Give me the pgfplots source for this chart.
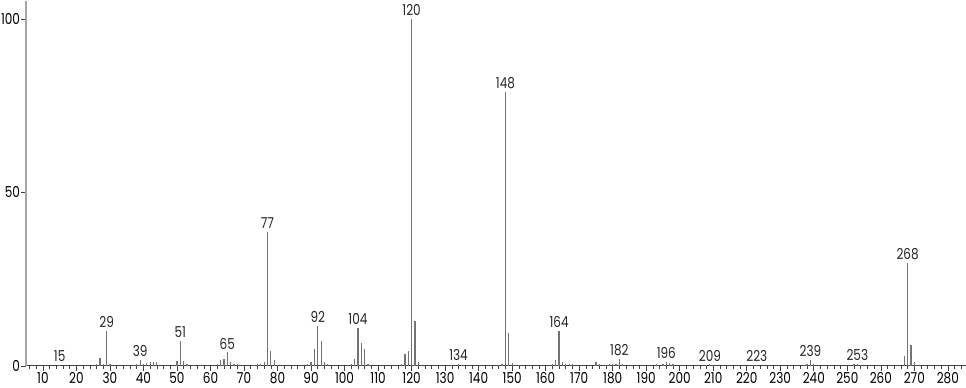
\documentclass[border=0pt]{standalone}
\usepackage{fontspec}
\setmainfont{Poppins}[FakeStretch=0.8]
\usepackage{pgfplots}
\pgfplotsset{compat=1.18}
\begin{document}
\fontsize{15}{17}\selectfont
\begin{tikzpicture}
\begin{axis}[
  scale only axis, width=937pt, height=364pt,
  xmin=5, xmax=285.3, ymin=0, ymax=105.2,
  axis x line*=bottom, axis y line*=left,
  x axis line style={black!75, line width=0.8pt},
  y axis line style={black!35, line width=1.8pt},
  xtick={10,20,...,280}, minor xtick={6,8,...,284},
  ytick={0,50,100},
  tick align=outside,
  major tick length=5pt, minor tick length=3pt,
  every tick/.style={black!75, line width=0.6pt},
  ticklabel style={font=\fontsize{15}{17}\selectfont, inner sep=1pt},
  /pgf/number format/assume math mode=true,
  /pgf/number format/1000 sep={},
  clip=false,
]
\addplot[ycomb, black!55, line width=1.2pt] coordinates {
(15,0.3)
(26,0.4)(27,2.2)(28,0.5)(29,10.0)(30,0.4)
(37,0.3)(38,0.5)(39,1.8)(40,0.4)(41,0.8)(42,1.2)(43,1.0)(44,1.0)
(50,1.5)(51,7.1)(52,1.5)(53,0.5)
(55,0.3)(57,0.3)
(62,0.5)(63,1.6)(64,2.0)(65,3.9)(66,1.2)(67,0.5)(68,0.5)
(73,0.3)(74,0.4)(75,0.4)(76,1.0)(77,38.6)(78,4.2)(79,1.6)(80,0.3)
(89,0.4)(90,1.2)(91,4.9)(92,11.5)(93,7.2)(94,1.0)(95,0.4)
(102,0.4)(103,2.0)(104,10.9)(105,6.7)(106,4.8)(107,0.4)
(117,0.5)(118,3.3)(119,4.2)(120,100)(121,13.0)(122,1.0)(123,0.3)
(132,0.3)(134,0.5)(135,0.3)
(146,0.3)(147,0.5)(148,78.9)(149,9.6)(150,0.9)(151,0.3)(152,0.3)
(162,0.4)(163,1.8)(164,10.0)(165,1.2)(166,0.5)(167,0.5)(168,0.4)
(175,1.2)(176,0.4)(178,0.3)(179,0.4)(180,0.5)(181,0.5)(182,2.1)(183,0.4)
(193,0.4)(195,0.5)(196,1.2)(197,0.9)(198,0.4)
(208,0.3)(209,0.4)(210,0.3)
(222,0.3)(223,0.3)
(237,0.3)(238,0.5)(239,1.8)(240,0.5)
(252,0.4)(253,0.6)(254,0.3)
(267,2.9)(268,29.7)(269,6.0)(270,1.0)
};
\addplot[draw=none, nodes near coords, point meta=explicit symbolic,
  nodes near coords style={anchor=south, inner sep=0pt, yshift=3pt, font=\fontsize{15}{17}\selectfont, black!85}]
coordinates {
(15,0.3)[15] (29,10.0)[29] (39,1.8)[39] (51,7.1)[51] (65,3.9)[65]
(77,38.6)[77] (92,11.5)[92] (104,10.9)[104] (120,100)[120] (134,0.5)[134]
(148,78.9)[148] (164,10.0)[164] (182,2.1)[182] (196,1.2)[196] (209,0.4)[209]
(223,0.3)[223] (239,1.8)[239] (253,0.6)[253] (268,29.7)[268]
};
\end{axis}
\path ([yshift=-3pt]current axis.below south west);
\end{tikzpicture}
\end{document}
